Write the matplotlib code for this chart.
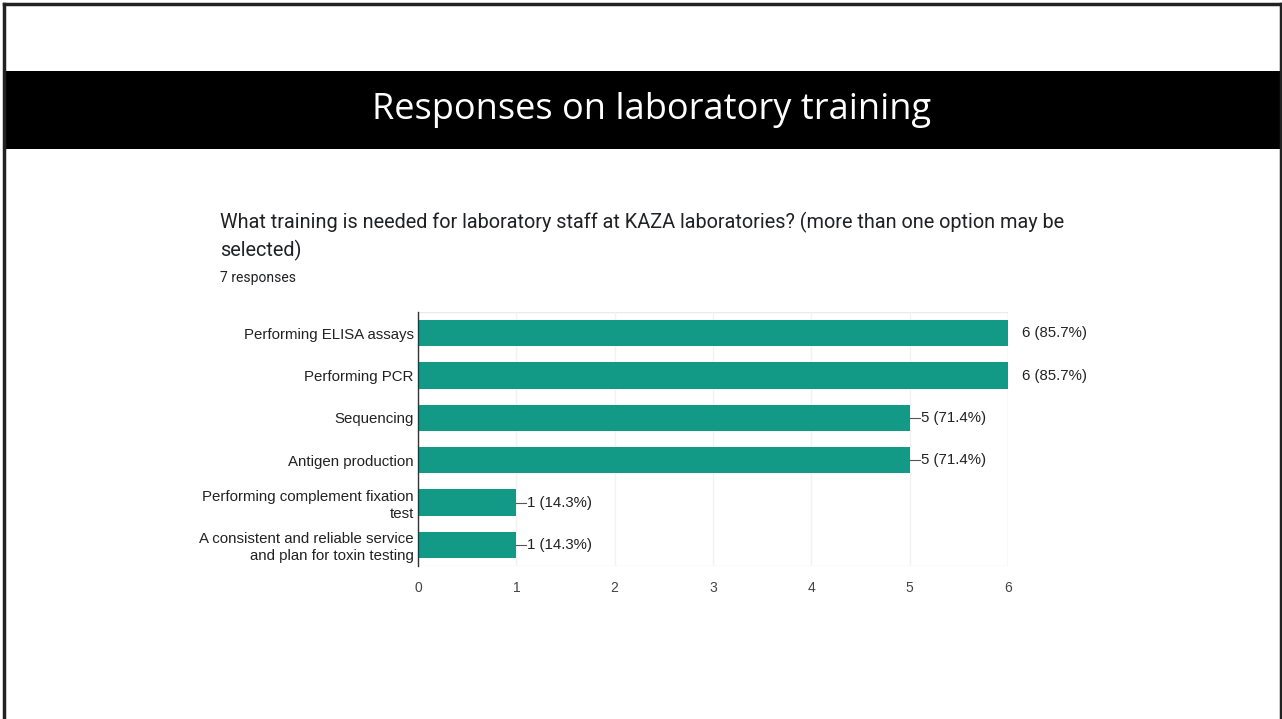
import matplotlib.pyplot as plt
from matplotlib.patches import Rectangle
from matplotlib.lines import Line2D

categories = [
    "Performing ELISA assays",
    "Performing PCR",
    "Sequencing",
    "Antigen production",
    "Performing complement fixation\ntest",
    "A consistent and reliable service\nand plan for toxin testing",
]
counts = [6, 6, 5, 5, 1, 1]
percents = [85.7, 85.7, 71.4, 71.4, 14.3, 14.3]
xticks = [0, 1, 2, 3, 4, 5, 6]

bar_color = "#139a87"
W, H = 1282, 719

fig = plt.figure(figsize=(12.82, 7.19), dpi=100)
fig.patch.set_facecolor("white")

# slide border (left, top, right) and title bar
for xs, ys in [([4 / W, 4 / W], [0, 1 - 4 / H]),
               ([4 / W, 1 - 1.5 / W], [1 - 4 / H, 1 - 4 / H]),
               ([1 - 1.5 / W, 1 - 1.5 / W], [0, 1 - 4 / H])]:
    fig.lines.append(Line2D(xs, ys, transform=fig.transFigure, color="#222222", linewidth=2.5))
fig.patches.append(Rectangle((4 / W, 1 - 149 / H), 1, 78 / H, transform=fig.transFigure,
                             facecolor="black", edgecolor="none"))
fig.text(0.508, 1 - 110 / H, "Responses on laboratory training", color="white",
         fontsize=26, family="Open Sans", ha="center", va="center")

# question header
fig.text(220 / W, 1 - 222 / H,
         "What training is needed for laboratory staff at KAZA laboratories? (more than one option may be",
         fontsize=14.3, family="Roboto", color="#202124", ha="left", va="center")
fig.text(220 / W, 1 - 250 / H, "selected)",
         fontsize=14.3, family="Roboto", color="#202124", ha="left", va="center")
fig.text(220 / W, 1 - 278 / H, "7 responses",
         fontsize=10, family="Roboto", color="#202124", ha="left", va="center")

ax = fig.add_axes([418 / W, 1 - 566 / H, 590 / W, 254 / H])
y = list(range(len(categories)))
ax.barh(y, counts, height=0.62, color=bar_color, zorder=3)
ax.set_ylim(len(categories) - 0.5, -0.5)
ax.set_xlim(0, 6)
ax.set_yticks(y)
ax.set_yticklabels(categories, fontsize=10.8, family="Liberation Sans", color="#222222",
                   linespacing=1.25)
ax.set_xticks(xticks)
ax.set_xticklabels([str(t) for t in xticks], fontsize=10, family="Liberation Sans",
                   color="#444444")
ax.tick_params(axis="both", length=0)
ax.tick_params(axis="x", pad=11)
ax.tick_params(axis="y", pad=3)
ax.grid(axis="x", color="#f2f2f2", linewidth=1, zorder=0)
for s in ["top", "right", "bottom"]:
    ax.spines[s].set_visible(False)
ax.spines["left"].set_color("#333333")
ax.spines["left"].set_linewidth(1)
ax.spines["left"].set_zorder(4)
ax.axhline(-0.5, color="#ebebeb", linewidth=1, zorder=0)
ax.axhline(len(categories) - 0.5, color="#ebebeb", linewidth=1, zorder=0)
ax.axvline(6, color="#e6e6e6", linewidth=1, zorder=0)

for yi, c, p in zip(y, counts, percents):
    label = f"{c} ({p}%)"
    if c == max(counts):
        ax.annotate(label, (c, yi), xytext=(10, 0), textcoords="offset points",
                    va="center", ha="left", fontsize=10.8, family="Liberation Sans",
                    color="#222222", annotation_clip=False)
    else:
        ax.plot([c, c + 10 / 98.3], [yi, yi], color="#555555", linewidth=0.8,
                zorder=4, clip_on=False)
        ax.annotate(label, (c, yi), xytext=(8, 0), textcoords="offset points",
                    va="center", ha="left", fontsize=10.8, family="Liberation Sans",
                    color="#222222", annotation_clip=False)

fig.savefig("out.png", dpi=100, facecolor="white")
